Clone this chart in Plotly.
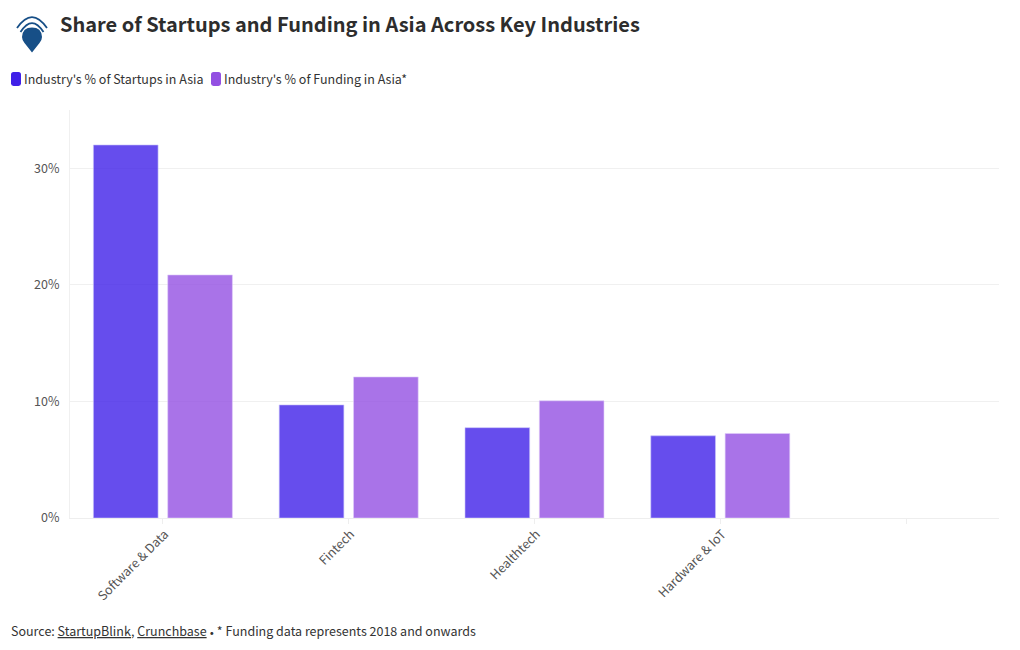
import plotly.graph_objects as go

categories = ["Software & Data", "Fintech", "Healthtech", "Hardware & IoT", " "]
startups = [32.0, 9.7, 7.75, 7.05, None]
funding = [20.85, 12.1, 10.05, 7.25, None]
y_ticks = [0, 10, 20, 30]
y_labels = ["0%", "10%", "20%", "30%"]

FONT = "Noto Sans CJK SC, Source Sans Pro, sans-serif"
W, H = 1020, 650
L, R, T, B = 70, 21, 110, 131.5
pw, ph = W - L - R, H - T - B

def px(x): return (x - L) / pw
def py(y): return (H - B - y) / ph

fig = go.Figure()
for name, vals, col, edge in [
    ("Industry's % of Startups in Asia", startups, "rgba(64,32,232,0.8)", "rgba(200,195,250,0.6)"),
    ("Industry's % of Funding in Asia*", funding, "rgba(147,80,226,0.8)", "rgba(225,205,250,0.6)"),
]:
    fig.add_bar(x=categories, y=vals, name=name, showlegend=False,
                marker=dict(color=col, line=dict(color=edge, width=1)))

shapes = []
def rrect(x0, y0, x1, y1, r, col):
    path = (f"M {px(x0+r)} {py(y0)} L {px(x1-r)} {py(y0)} Q {px(x1)} {py(y0)} {px(x1)} {py(y0+r)} "
            f"L {px(x1)} {py(y1-r)} Q {px(x1)} {py(y1)} {px(x1-r)} {py(y1)} "
            f"L {px(x0+r)} {py(y1)} Q {px(x0)} {py(y1)} {px(x0)} {py(y1-r)} "
            f"L {px(x0)} {py(y0+r)} Q {px(x0)} {py(y0)} {px(x0+r)} {py(y0)} Z")
    shapes.append(dict(type="path", xref="paper", yref="paper", path=path,
                       fillcolor=col, line=dict(width=0)))
rrect(11, 72, 21, 86, 2.5, "#4020E8")
rrect(211, 72, 221, 86, 2.5, "#9350E2")

# logo: teardrop and two arcs
drop = (f"M {px(32)} {py(52.5)} L {px(24.5)} {py(43)} "
        f"Q {px(22)} {py(40)} {px(22)} {py(37)} "
        f"Q {px(22.5)} {py(27.5)} {px(32)} {py(27.5)} Q {px(41.5)} {py(27.5)} {px(42)} {py(37)} "
        f"Q {px(42)} {py(40)} {px(39.5)} {py(43)} Z")
shapes.append(dict(type="path", xref="paper", yref="paper", path=drop,
                   fillcolor="#174F87", line=dict(width=0)))
for x0, x1, yb, yc, w in [(17, 47, 28, 6, 1.8), (20.5, 43.5, 32, 14, 1.8)]:
    arc = f"M {px(x0)} {py(yb)} Q {px(32)} {py(yc)} {px(x1)} {py(yb)}"
    shapes.append(dict(type="path", xref="paper", yref="paper", path=arc,
                       line=dict(color="#174F87", width=w)))

def note(x, y, text, size=12.5, color="#333333"):
    return dict(xref="paper", yref="paper", x=px(x - 2), y=py(y), xanchor="left", yanchor="middle",
                text=text, showarrow=False, align="left", font=dict(family=FONT, size=size, color=color))

annotations = [
    note(60, 23.5, "<b>Share of Startups and Funding in Asia Across Key Industries</b>", 20, "#2d2d2d"),
    note(24, 78, "Industry's % of Startups in Asia"),
    note(224, 78, "Industry's % of Funding in Asia*"),
    note(11, 631, 'Source: <u>StartupBlink</u>, <u>Crunchbase</u> '
                  '<span style="font-family:Lato;font-size:8px">•</span> * Funding data represents 2018 and onwards'),
]

fig.update_layout(
    width=W, height=H, margin=dict(l=L, r=R, t=T, b=B, pad=0),
    paper_bgcolor="white", plot_bgcolor="white",
    barmode="group", bargap=0.2, bargroupgap=0.13,
    font=dict(family=FONT, size=12.5, color="#555555"),
    shapes=shapes, annotations=annotations, showlegend=False,
    xaxis=dict(type="category", categoryorder="array", categoryarray=categories, range=[-0.5, 4.5],
               tickangle=-45, ticks="outside", ticklen=5, tickcolor="#eeeeee", tickwidth=1,
               showline=True, linecolor="#eeeeee", linewidth=1, showgrid=False, zeroline=False,
               ticklabelstandoff=-2, ticklabelshift=2,
               tickfont=dict(family=FONT, size=12.5, color="#555555")),
    yaxis=dict(range=[0, 35], tickvals=y_ticks, ticktext=y_labels, showgrid=True, gridcolor="#f0f0f0",
               gridwidth=1, showline=True, linecolor="#f0f0f0", linewidth=1, zeroline=False, ticks="",
               ticklabelstandoff=7,
               tickfont=dict(family=FONT, size=12.5, color="#555555")),
)
fig.write_html("out.html", config={"displayModeBar": False},
               post_script="document.body.style.margin='0';")
